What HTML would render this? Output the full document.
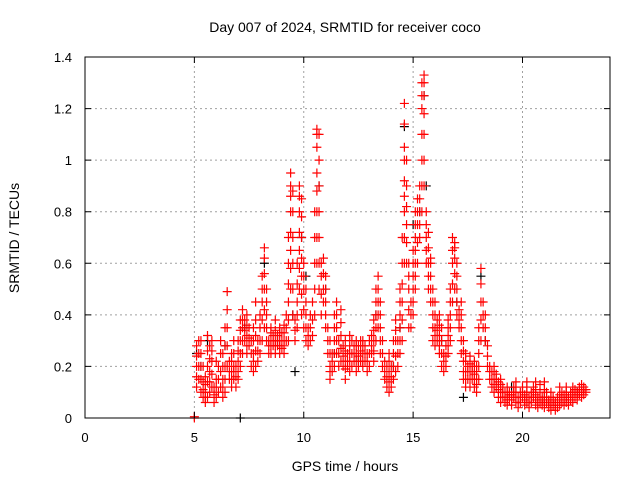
<!DOCTYPE html>
<html><head><meta charset="utf-8"><style>
body{margin:0;background:#fff}
svg{display:block;font-family:"Liberation Sans",sans-serif}
</style></head><body>
<svg id="chart" width="640" height="480" viewBox="0 0 640 480">
<rect width="640" height="480" fill="#fff"/>
<g id="grid"></g>
<g id="black"></g>
<g id="red"></g>
<rect x="85" y="57" width="525" height="361" fill="none" stroke="#000" stroke-width="1"/>
<g id="axes"></g>
<text x="345" y="32" text-anchor="middle" font-size="14">Day 007 of 2024, SRMTID for receiver coco</text>
<text x="345" y="471" text-anchor="middle" font-size="14">GPS time / hours</text>
<text transform="translate(19,238) rotate(-90)" text-anchor="middle" font-size="14">SRMTID / TECUs</text>
</svg>
<script>
const xTicks=[0,5,10,15,20];
const yTicks=[0,0.2,0.4,0.6,0.8,1,1.2,1.4];
const yTickLabels=["0","0.2","0.4","0.6","0.8","1","1.2","1.4"];
const redT=[5.0,5.1,5.2,5.3,5.4,5.5,5.6,5.7,5.8,5.9,6.0,6.1,6.2,6.3,6.4,6.5,6.6,6.7,6.8,6.9,7.0,7.1,7.2,7.3,7.4,7.5,7.6,7.7,7.8,7.9,8.0,8.1,8.2,8.3,8.4,8.5,8.6,8.7,8.8,8.9,9.0,9.1,9.2,9.3,9.4,9.5,9.6,9.7,9.8,9.9,10.0,10.1,10.2,10.3,10.4,10.5,10.6,10.7,10.8,10.9,11.0,11.1,11.2,11.3,11.4,11.5,11.6,11.7,11.8,11.9,12.0,12.1,12.2,12.3,12.4,12.5,12.6,12.7,12.8,12.9,13.0,13.1,13.2,13.3,13.4,13.5,13.6,13.7,13.8,13.9,14.0,14.1,14.2,14.3,14.4,14.5,14.6,14.7,14.8,14.9,15.0,15.1,15.2,15.3,15.4,15.5,15.6,15.7,15.8,15.9,16.0,16.1,16.2,16.3,16.4,16.5,16.6,16.7,16.8,16.9,17.0,17.1,17.2,17.3,17.4,17.5,17.6,17.7,17.8,17.9,18.0,18.1,18.2,18.3,18.4,18.5,18.6,18.7,18.8,18.9,19.0,19.1,19.2,19.3,19.4,19.5,19.6,19.7,19.8,19.9,20.0,20.1,20.2,20.3,20.4,20.5,20.6,20.7,20.8,20.9,21.0,21.1,21.2,21.3,21.4,21.5,21.6,21.7,21.8,21.9,22.0,22.1,22.2,22.3,22.4,22.5,22.6,22.7,22.8,22.9];
const redV=[[0,0.005],[0.12,0.16,0.2,0.24,0.28],[0.15,0.2,0.25,0.3],[0.1,0.15,0.2,0.25,0.3],[0.08,0.11,0.14,0.2],[0.06,0.08,0.1,0.13,0.16],[0.08,0.14,0.2,0.26,0.32],[0.1,0.14,0.18,0.23,0.28],[0.12,0.17,0.22,0.26,0.3],[0.06,0.09,0.12],[0.08,0.12,0.15,0.22],[0.1,0.15,0.2],[0.12,0.18,0.25,0.3],[0.08,0.12,0.15,0.2,0.25],[0.1,0.15,0.2,0.28,0.35],[0.2,0.28,0.35,0.42,0.49],[0.15,0.18,0.22],[0.12,0.15,0.18,0.22,0.25],[0.15,0.18,0.2,0.25,0.3],[0.12,0.16,0.2],[0.15,0.18,0.22,0.26,0.3],[0.2,0.25,0.3,0.34,0.38],[0.25,0.3,0.35,0.38,0.42],[0.3,0.34,0.38],[0.25,0.28,0.32,0.36,0.4],[0.28,0.31,0.35],[0.2,0.25,0.3],[0.18,0.22,0.25,0.3,0.35],[0.2,0.26,0.32,0.38,0.45],[0.22,0.26,0.3],[0.25,0.3,0.35,0.4],[0.3,0.38,0.45,0.5,0.55],[0.35,0.42,0.5,0.56,0.62,0.66],[0.3,0.35,0.4,0.45,0.5],[0.25,0.28,0.3],[0.25,0.28,0.3,0.33,0.35],[0.28,0.3,0.32],[0.25,0.28,0.3,0.34,0.38],[0.28,0.3,0.32],[0.25,0.28,0.3,0.33,0.35],[0.27,0.3,0.33],[0.25,0.28,0.3,0.33,0.36],[0.3,0.35,0.4],[0.3,0.38,0.45,0.52,0.6,0.7],[0.5,0.58,0.65,0.72,0.8,0.86,0.9,0.95],[0.4,0.5,0.6,0.7,0.8,0.88],[0.3,0.34,0.38],[0.35,0.4,0.45,0.52,0.6],[0.5,0.58,0.65,0.72,0.8,0.86,0.9],[0.4,0.48,0.55,0.62,0.7,0.78,0.85],[0.35,0.42,0.5,0.55,0.6],[0.3,0.35,0.4,0.45,0.5],[0.28,0.32,0.35],[0.3,0.35,0.4],[0.32,0.38,0.45],[0.4,0.5,0.6,0.7,0.8],[0.6,0.7,0.8,0.88,0.95,1.05,1.1,1.12],[0.5,0.6,0.7,0.8,0.9,1.0,1.1],[0.4,0.48,0.55,0.6],[0.45,0.5,0.56,0.62],[0.35,0.4,0.45,0.5,0.55],[0.25,0.3,0.35],[0.15,0.18,0.2,0.25,0.3],[0.18,0.22,0.25],[0.2,0.25,0.3,0.35,0.4],[0.25,0.3,0.35,0.4,0.45],[0.2,0.25,0.3],[0.22,0.27,0.32,0.37,0.42],[0.2,0.24,0.28],[0.15,0.19,0.22,0.26,0.3],[0.2,0.22,0.25],[0.18,0.22,0.25,0.28,0.32],[0.2,0.25,0.3],[0.22,0.25,0.28],[0.18,0.22,0.25,0.28,0.3],[0.2,0.24,0.28],[0.22,0.26,0.3],[0.2,0.22,0.25,0.28,0.3],[0.22,0.25,0.28],[0.18,0.22,0.25],[0.2,0.25,0.3],[0.25,0.28,0.32],[0.22,0.26,0.3,0.34,0.38],[0.3,0.35,0.4,0.45,0.5],[0.35,0.4,0.45,0.5,0.55],[0.25,0.3,0.35,0.4,0.45],[0.2,0.25,0.3],[0.15,0.18,0.22],[0.12,0.16,0.2],[0.1,0.14,0.18,0.22,0.25],[0.12,0.16,0.2],[0.15,0.2,0.25,0.3],[0.18,0.24,0.3,0.34,0.38],[0.2,0.25,0.3],[0.25,0.3,0.35,0.4,0.45,0.5],[0.3,0.38,0.45,0.52,0.6,0.7],[0.6,0.7,0.8,0.86,0.92,1.0,1.05,1.14,1.22],[0.6,0.68,0.75,0.82,0.9,1.0],[0.35,0.42,0.5,0.55,0.6],[0.35,0.4,0.45],[0.4,0.45,0.5,0.55,0.6,0.65],[0.5,0.55,0.6,0.65,0.7,0.75,0.8],[0.6,0.68,0.75,0.8,0.85],[0.7,0.75,0.8,0.85,0.9],[0.8,0.9,1.0,1.1,1.2,1.25,1.3],[0.9,1.0,1.1,1.18,1.25,1.3,1.33],[0.6,0.65,0.7,0.75,0.8],[0.5,0.55,0.6,0.66,0.72],[0.45,0.5,0.55,0.6,0.62],[0.3,0.35,0.4,0.45,0.5],[0.28,0.32,0.35,0.4,0.45],[0.3,0.34,0.38],[0.25,0.28,0.32,0.36,0.4],[0.2,0.25,0.3,0.35],[0.18,0.22,0.25],[0.2,0.24,0.28],[0.25,0.28,0.32,0.35,0.38],[0.3,0.35,0.4,0.45,0.5],[0.45,0.52,0.6,0.65,0.7],[0.5,0.56,0.62,0.66,0.68],[0.4,0.45,0.5,0.55,0.6],[0.35,0.38,0.42],[0.25,0.3,0.35,0.4,0.45],[0.15,0.18,0.22,0.26,0.3],[0.12,0.15,0.18,0.22,0.25],[0.15,0.18,0.2],[0.12,0.15,0.18,0.21,0.24],[0.15,0.18,0.2],[0.12,0.15,0.17,0.2,0.22],[0.1,0.13,0.15,0.18,0.2],[0.15,0.2,0.25,0.3,0.35],[0.3,0.38,0.45,0.52,0.58],[0.35,0.4,0.45],[0.3,0.35,0.4],[0.2,0.24,0.28],[0.15,0.18,0.2],[0.12,0.15,0.18],[0.1,0.13,0.15,0.18,0.2],[0.12,0.15,0.17],[0.08,0.11,0.14],[0.06,0.08,0.1,0.13,0.15],[0.08,0.1,0.12],[0.06,0.08,0.1],[0.05,0.07,0.08,0.1,0.12],[0.07,0.09,0.1],[0.05,0.07,0.09],[0.08,0.1,0.12],[0.06,0.08,0.1,0.12,0.14],[0.04,0.06,0.08],[0.06,0.08,0.1],[0.08,0.1,0.12],[0.05,0.07,0.09],[0.06,0.08,0.1,0.12,0.14],[0.04,0.06,0.08],[0.06,0.08,0.1],[0.08,0.1,0.12],[0.05,0.07,0.09,0.11,0.14],[0.04,0.06,0.08],[0.06,0.08,0.1,0.13],[0.05,0.07,0.08],[0.04,0.06,0.08,0.11,0.14],[0.06,0.08,0.1],[0.04,0.06,0.07],[0.03,0.05,0.06,0.08,0.1],[0.05,0.07,0.08],[0.03,0.05,0.06],[0.04,0.06,0.08],[0.05,0.07,0.09,0.12],[0.06,0.08,0.1],[0.05,0.07,0.09],[0.06,0.08,0.1,0.12],[0.05,0.07,0.08],[0.07,0.09,0.1],[0.06,0.08,0.1,0.12],[0.08,0.1,0.11],[0.07,0.09,0.1],[0.09,0.1,0.12],[0.08,0.1,0.11,0.13],[0.09,0.11,0.12],[0.1,0.11]];
const blackT=[5.1,5.3,5.6,6.4,7.1,7.3,8.2,8.8,9.5,9.6,9.9,10.1,10.7,11.0,11.4,12.5,13.3,14.1,14.4,14.6,15.0,15.3,15.5,15.6,16.3,17.0,17.3,18.1,18.3,19.5,21.0,22.5];
const blackV=[0.25,0.2,0.3,0.28,0.0,0.35,0.6,0.3,0.4,0.18,0.7,0.55,0.9,0.5,0.25,0.22,0.4,0.2,0.35,1.13,0.75,0.8,1.25,0.9,0.3,0.45,0.08,0.55,0.3,0.12,0.08,0.1];

const X0=85,X1=610,Y0=418,Y1=57;
const xs=t=>X0+(t/24)*(X1-X0);
const ys=v=>Y0-(v/1.4)*(Y0-Y1);
const NS="http://www.w3.org/2000/svg";
function mk(tag,at,parent){const e=document.createElementNS(NS,tag);for(const k in at)e.setAttribute(k,at[k]);parent.appendChild(e);return e;}
const grid=document.getElementById('grid'),axes=document.getElementById('axes');
xTicks.forEach(t=>{
  const x=xs(t);
  if(t>0){const g=mk('line',{x1:x,x2:x,y1:Y0,y2:Y1,stroke:'#a0a0a0','stroke-dasharray':'2,3'},grid);
  
  }
  const tk=mk('path',{d:`M${x},${Y0}v-6M${x},${Y1}v6`,stroke:'#000'},axes);
  
  
  const lb=mk('text',{x:x,y:442,'text-anchor':'middle','font-size':13},axes);
  lb.textContent=String(t);
  
  
});
yTicks.forEach((v,i)=>{
  const y=ys(v);
  if(i>0&&i<yTicks.length-1){const g=mk('line',{x1:X0,x2:X1,y1:y,y2:y,stroke:'#a0a0a0','stroke-dasharray':'2,3'},grid);
  
  }
  const tk=mk('path',{d:`M${X0},${y}h6M${X1},${y}h-6`,stroke:'#000'},axes);
  
  
  const lb=mk('text',{x:72,y:y+5,'text-anchor':'end','font-size':13},axes);
  lb.textContent=yTickLabels[i];
  
  
});
function plus(g,t,v,c){
  const x=xs(t),y=ys(v);
  const p=mk('path',{d:`M${x-4.5},${y}h9M${x},${y-4.5}v9`,stroke:c,'stroke-width':1.2,fill:'none'},g);
  
  
}
const gb=document.getElementById('black'),gr=document.getElementById('red');
blackT.forEach((t,i)=>plus(gb,t,blackV[i],'#000'));
redT.forEach((t,i)=>redV[i].forEach(v=>plus(gr,t,v,'#ff0000')));
</script>
</body></html>
